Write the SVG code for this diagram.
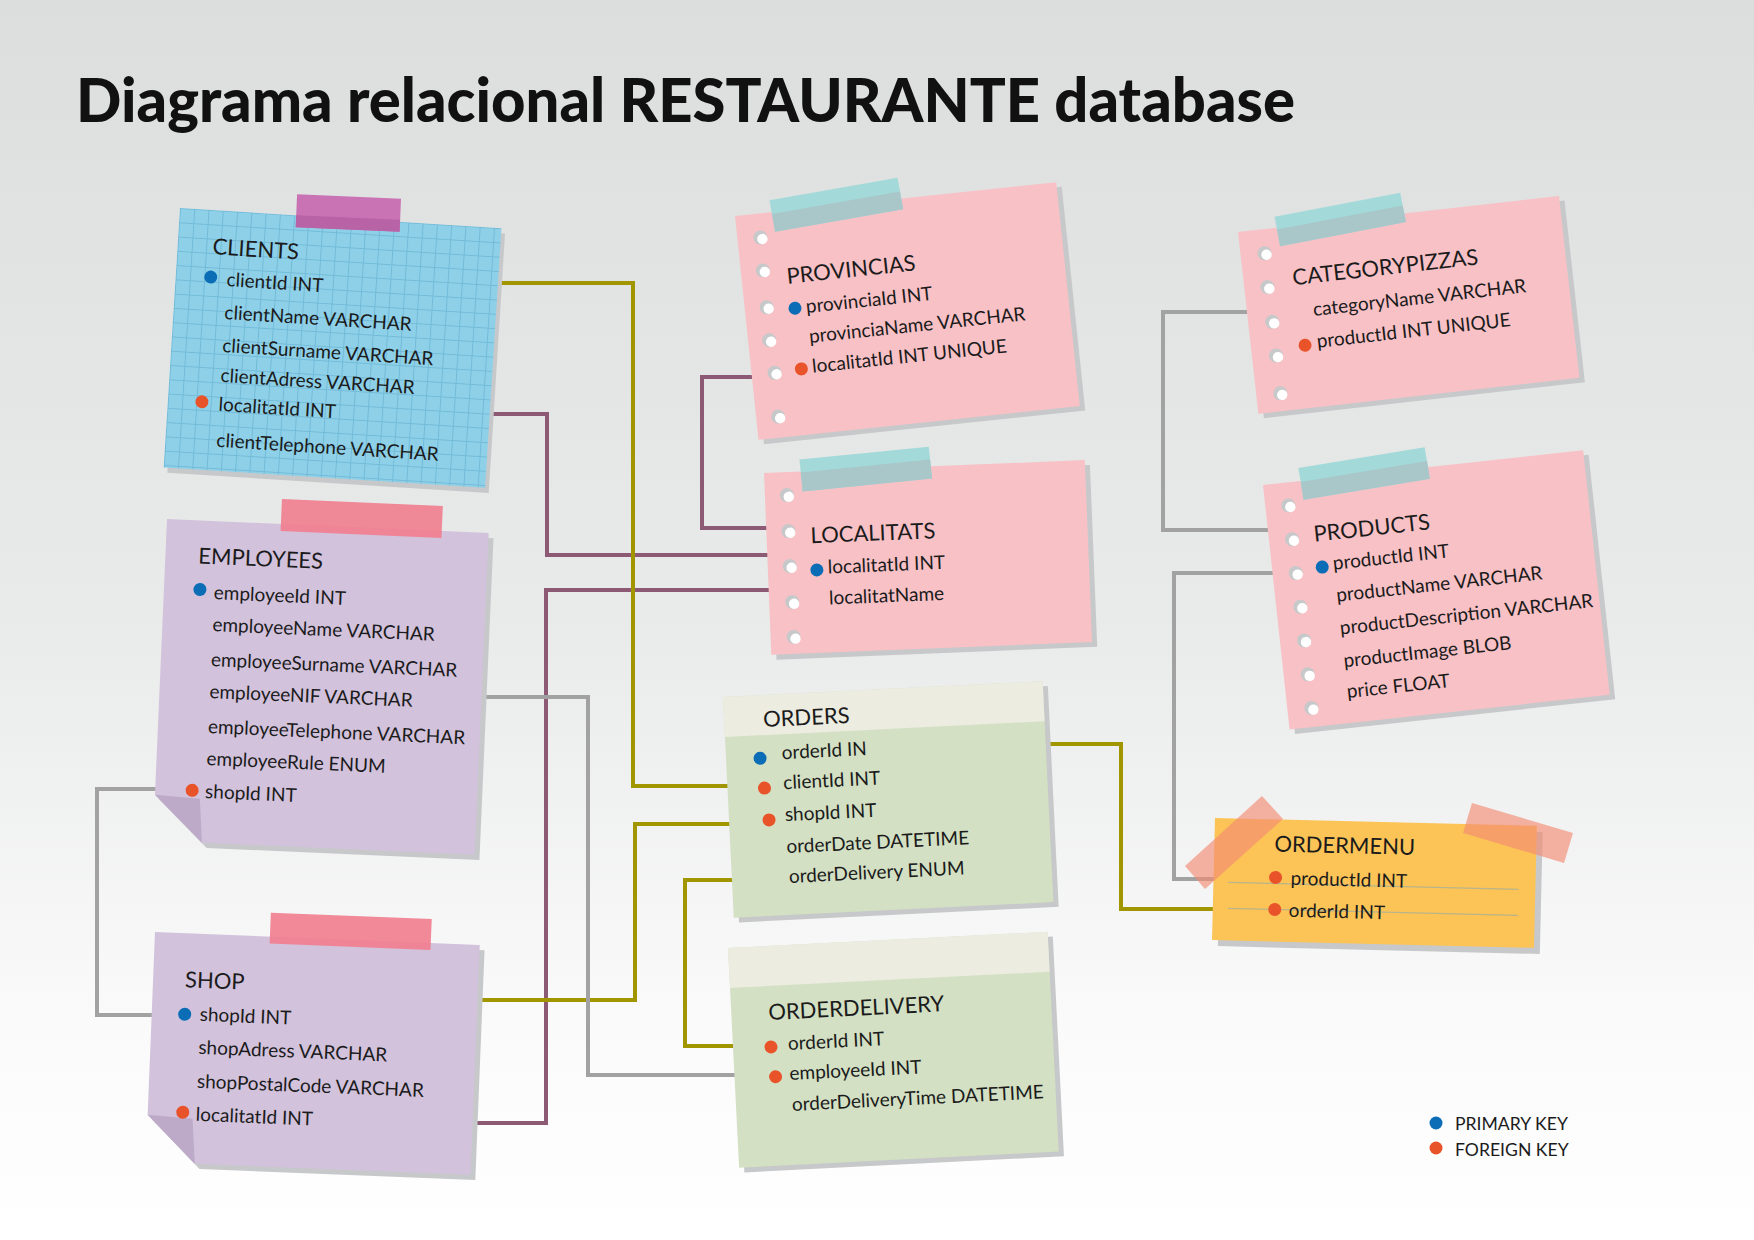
<svg xmlns="http://www.w3.org/2000/svg" xmlns:xlink="http://www.w3.org/1999/xlink" width="1754" height="1240" viewBox="0 0 1754 1240">
<style>
.t{font-family:Lato,"Liberation Sans",sans-serif;font-size:19px;fill:#1b1b1b}
.h{font-size:22px}
.pk{fill:#0a6db6}
.fk{fill:#e9532a}
.ln{fill:none;stroke-width:4;stroke-linejoin:miter}
.olive{stroke:#a19500}
.mauve{stroke:#8c5a74}
.gray{stroke:#a2a2a2}
.sh{fill:#c7c8ca}
.pink{fill:#f8c1c6}
.purple{fill:#d2c2dc}
.green{fill:#d3e0c3}
.head{fill:#ecece1}
.tealA{fill:#a3dad9}
.tealB{fill:#a9c6c9}
.ptape{fill:#f07f8f;opacity:.92}
</style>
<defs>
<linearGradient id="bg" x1="0" y1="0" x2="0" y2="1">
<stop offset="0" stop-color="#dcdddd"/>
<stop offset="0.5" stop-color="#e9eaea"/>
<stop offset="0.82" stop-color="#fafafa"/>
<stop offset="1" stop-color="#ffffff"/>
</linearGradient>
<pattern id="grid" width="14.3" height="14.3" patternUnits="userSpaceOnUse">
<rect width="14.3" height="14.3" fill="#8ed0e8"/>
<path d="M0 0.5H14.3M0.5 0V14.3" stroke="#72bbd8" stroke-width="1" fill="none"/>
</pattern>
<g id="hole"><circle r="7" fill="#c6c8ca"/><circle cx="1.8" cy="1.8" r="5.2" fill="#ffffff"/></g>
</defs>
<rect width="1754" height="1240" fill="url(#bg)"/>
<text x="76" y="122" font-family="Lato,'Liberation Sans',sans-serif" font-weight="900" font-size="60" fill="#111" textLength="1219" lengthAdjust="spacingAndGlyphs">Diagrama relacional RESTAURANTE database</text>

<g id="connectors">
<path class="ln mauve" d="M752,377 H702 V528 H770"/>
<path class="ln mauve" d="M490,414 H547 V555 H770"/>
<path class="ln mauve" d="M470,1123 H546 V590 H770"/>
<path class="ln olive" d="M495,283 H633 V786 H730"/>
<path class="ln olive" d="M475,1000 H635 V824 H730"/>
<path class="ln olive" d="M735,880 H685 V1046 H740"/>
<path class="ln olive" d="M1050,744 H1121 V909 H1215"/>
<path class="ln gray" d="M480,697 H588 V1075 H740"/>
<path class="ln gray" d="M160,789 H97 V1015 H160"/>
<path class="ln gray" d="M1250,312 H1163 V530 H1275"/>
<path class="ln gray" d="M1275,573 H1174 V879 H1215"/>
</g>

<g id="clients" transform="translate(180,208) rotate(3.6)">
<rect class="sh" x="4" y="5" width="322" height="260"/>
<rect x="0" y="0" width="322" height="260" fill="url(#grid)"/>
<g transform="rotate(-1.2 116 -21)">
<rect x="116" y="-21" width="104" height="33" fill="#ca73b4"/>
<rect x="116" y="0" width="104" height="12" fill="#b863a6"/>
</g>
<text class="t h" x="35" y="44">CLIENTS</text>
<circle class="pk" cx="35" cy="67" r="6.5"/>
<text class="t" x="51" y="75">clientId INT</text>
<text class="t" x="51" y="108">clientName VARCHAR</text>
<text class="t" x="51" y="141">clientSurname VARCHAR</text>
<text class="t" x="51" y="171">clientAdress VARCHAR</text>
<circle class="fk" cx="34" cy="192" r="6.5"/>
<text class="t" x="51" y="200">localitatId INT</text>
<text class="t" x="51" y="236">clientTelephone VARCHAR</text>
</g>

<g id="employees" transform="translate(167,519) rotate(2.5)">
<polygon class="sh" points="5,5 327,5 327,327 54,327 5,281"/>
<polygon class="purple" points="0,0 322,0 322,322 49,322 0,276"/>
<polygon points="0,276 45,278 49,322" fill="#bcaac8"/>
<rect class="ptape" x="114" y="-25" width="161" height="32"/>
<text class="t h" x="33" y="43">EMPLOYEES</text>
<circle class="pk" cx="36" cy="69" r="6.5"/>
<text class="t" x="50" y="78">employeeId INT</text>
<text class="t" x="50" y="110">employeeName VARCHAR</text>
<text class="t" x="50" y="145">employeeSurname VARCHAR</text>
<text class="t" x="50" y="177">employeeNIF VARCHAR</text>
<text class="t" x="50" y="212">employeeTelephone VARCHAR</text>
<text class="t" x="50" y="244">employeeRule ENUM</text>
<circle class="fk" cx="37" cy="270" r="6.5"/>
<text class="t" x="50" y="277">shopId INT</text>
</g>

<g id="shop" transform="translate(155,932) rotate(2.3)">
<polygon class="sh" points="5,5 330,5 330,235 54,235 5,188"/>
<polygon class="purple" points="0,0 325,0 325,230 49,230 0,183"/>
<polygon points="0,183 45,185 49,230" fill="#bcaac8"/>
<rect class="ptape" x="115" y="-24" width="161" height="31"/>
<text class="t h" x="32" y="54">SHOP</text>
<circle class="pk" cx="33" cy="81" r="6.5"/>
<text class="t" x="48" y="87">shopId INT</text>
<text class="t" x="48" y="120">shopAdress VARCHAR</text>
<text class="t" x="48" y="154">shopPostalCode VARCHAR</text>
<circle class="fk" cx="35" cy="179" r="6.5"/>
<text class="t" x="48" y="187">localitatId INT</text>
</g>

<g id="provincias" transform="translate(735,216) rotate(-6)">
<rect class="sh" x="5" y="5" width="323" height="225"/>
<rect class="pink" x="0" y="0" width="323" height="225"/>
<g transform="rotate(-4 36 -12)">
<rect class="tealA" x="36" y="-12" width="130" height="32"/>
<rect class="tealB" x="36" y="2" width="130" height="18"/>
</g>
<use href="#hole" x="23" y="24"/>
<use href="#hole" x="22" y="57"/>
<use href="#hole" x="22" y="94"/>
<use href="#hole" x="21" y="127"/>
<use href="#hole" x="23" y="160"/>
<use href="#hole" x="22" y="204"/>
<text class="t h" x="45" y="73">PROVINCIAS</text>
<circle class="pk" cx="50" cy="98" r="6.5"/>
<text class="t" x="61" y="104">provinciaId INT</text>
<text class="t" x="61" y="134">provinciaName VARCHAR</text>
<circle class="fk" cx="50" cy="159" r="6.5"/>
<text class="t" x="61" y="164">localitatId INT UNIQUE</text>
</g>

<g id="localitats" transform="translate(764,473) rotate(-2.3)">
<rect class="sh" x="5" y="5" width="321" height="182"/>
<rect class="pink" x="0" y="0" width="321" height="182"/>
<g transform="rotate(-3.4 36 -12)">
<rect class="tealA" x="36" y="-12" width="130" height="32"/>
<rect class="tealB" x="36" y="1" width="130" height="19"/>
</g>
<use href="#hole" x="22" y="23"/>
<use href="#hole" x="22" y="59"/>
<use href="#hole" x="22" y="94"/>
<use href="#hole" x="23" y="130"/>
<use href="#hole" x="23" y="165"/>
<text class="t h" x="44" y="72">LOCALITATS</text>
<circle class="pk" cx="49" cy="99" r="6.5"/>
<text class="t" x="60" y="103">localitatId INT</text>
<text class="t" x="60" y="134">localitatName</text>
</g>

<g id="orders" transform="translate(723,697) rotate(-2.8)">
<rect class="sh" x="5" y="5" width="320" height="221"/>
<rect class="green" x="0" y="0" width="320" height="221"/>
<rect class="head" x="0" y="0" width="320" height="40"/>
<text class="t h" x="39" y="32">ORDERS</text>
<circle class="pk" cx="34" cy="63" r="6.5"/>
<text class="t" x="56" y="65">orderId IN</text>
<circle class="fk" cx="37" cy="93" r="6.5"/>
<text class="t" x="56" y="95">clientId INT</text>
<circle class="fk" cx="40" cy="125" r="6.5"/>
<text class="t" x="56" y="127">shopId INT</text>
<text class="t" x="56" y="159">orderDate DATETIME</text>
<text class="t" x="57" y="189">orderDelivery ENUM</text>
</g>

<g id="orderdelivery" transform="translate(728,948) rotate(-2.9)">
<rect class="sh" x="5" y="5" width="320" height="220"/>
<rect class="green" x="0" y="0" width="320" height="220"/>
<rect class="head" x="0" y="0" width="320" height="40"/>
<text class="t h" x="37" y="74">ORDERDELIVERY</text>
<circle class="fk" cx="38" cy="101" r="6.5"/>
<text class="t" x="55" y="105">orderId INT</text>
<circle class="fk" cx="41" cy="131" r="6.5"/>
<text class="t" x="55" y="135">employeeId INT</text>
<text class="t" x="56" y="166">orderDeliveryTime DATETIME</text>
</g>

<g id="categorypizzas" transform="translate(1238,232) rotate(-6.4)">
<rect class="sh" x="5" y="5" width="323" height="183"/>
<rect class="pink" x="0" y="0" width="323" height="183"/>
<g transform="rotate(-4.5 38 -11)">
<rect class="tealA" x="38" y="-11" width="128" height="30"/>
<rect class="tealB" x="38" y="2" width="128" height="17"/>
</g>
<use href="#hole" x="24" y="24"/>
<use href="#hole" x="23" y="58"/>
<use href="#hole" x="24" y="93"/>
<use href="#hole" x="24" y="127"/>
<use href="#hole" x="24" y="165"/>
<text class="t h" x="49" y="59">CATEGORYPIZZAS</text>
<text class="t" x="66" y="92">categoryName VARCHAR</text>
<circle class="fk" cx="54" cy="120" r="6.5"/>
<text class="t" x="66" y="124">productId INT UNIQUE</text>
</g>

<g id="products" transform="translate(1263,485) rotate(-6.2)">
<rect class="sh" x="5" y="5" width="322" height="246"/>
<rect class="pink" x="0" y="0" width="322" height="246"/>
<g transform="rotate(-3.2 37 -13)">
<rect class="tealA" x="37" y="-13" width="128" height="32"/>
<rect class="tealB" x="37" y="1" width="128" height="18"/>
</g>
<use href="#hole" x="23" y="23"/>
<use href="#hole" x="23" y="57"/>
<use href="#hole" x="23" y="91"/>
<use href="#hole" x="24" y="125"/>
<use href="#hole" x="24" y="159"/>
<use href="#hole" x="24" y="193"/>
<use href="#hole" x="24" y="227"/>
<text class="t h" x="45" y="62">PRODUCTS</text>
<circle class="pk" cx="50" cy="88" r="6.5"/>
<text class="t" x="61" y="92">productId INT</text>
<text class="t" x="61" y="124">productName VARCHAR</text>
<text class="t" x="61" y="157">productDescription VARCHAR</text>
<text class="t" x="61" y="190">productImage BLOB</text>
<text class="t" x="61" y="221">price FLOAT</text>
</g>

<g id="ordermenu">
<g transform="translate(1215,818) rotate(1.4)">
<rect class="sh" x="6" y="6" width="322" height="122"/>
<rect x="0" y="0" width="322" height="122" fill="#fcc457"/>
<path d="M15,64 H305 M15,90 H305" stroke="#b9b48a" stroke-width="1.2" fill="none"/>
<text class="t h" x="60" y="32">ORDERMENU</text>
<circle class="fk" cx="62" cy="58" r="6.5"/>
<text class="t" x="77" y="65">productId INT</text>
<circle class="fk" cx="62" cy="90" r="6.5"/>
<text class="t" x="76" y="97">orderId INT</text>
</g>
<polygon points="1185,866 1262,796 1283,819 1205,889" fill="#f28c73" opacity="0.65"/>
<polygon points="1472,803 1573,833 1564,863 1463,833" fill="#f28c73" opacity="0.65"/>
</g>

<g id="legend">
<circle class="pk" cx="1436" cy="1123" r="6.5"/>
<text class="t" x="1455" y="1130" style="font-size:17.6px">PRIMARY KEY</text>
<circle class="fk" cx="1436" cy="1148" r="6.5"/>
<text class="t" x="1455" y="1156" style="font-size:17.6px">FOREIGN KEY</text>
</g>
</svg>
